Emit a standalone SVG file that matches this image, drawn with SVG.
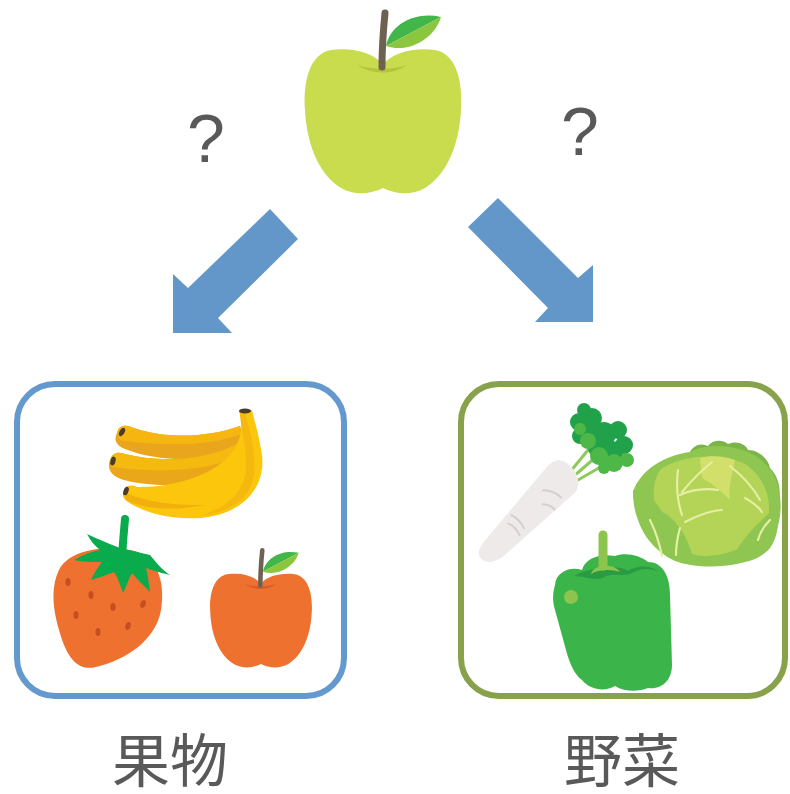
<svg xmlns="http://www.w3.org/2000/svg" xmlns:xlink="http://www.w3.org/1999/xlink" width="790" height="794" viewBox="0 0 790 794">
  <style>
    .label { font-family: "Liberation Sans", "Noto Sans CJK JP", sans-serif; fill: #595959; }
    .q { font-family: "Liberation Sans", sans-serif; fill: #595959; font-size: 68px; text-anchor: middle; }
    .cat { font-size: 58px; text-anchor: middle; }
    .arrow { fill: #6397ca; }
    .box { fill: none; stroke-width: 6; }
    .stem { fill: none; stroke: #6e6152; stroke-width: 7; stroke-linecap: round; }
    .leafDark { fill: #43b649; }
    .leafLight { fill: #8cc63f; }
    .seed { fill: #c64f1f; }
    .vein { fill: none; stroke: #e6eea2; stroke-width: 2.2; stroke-linecap: round; }
    .radLine { fill: none; stroke: #d2cfcf; stroke-width: 2; stroke-linecap: round; }
  </style>
  <defs>
    <!-- generic apple, local origin at top-centre of the body -->
    <path id="appleBody" d="M0,16 C10,5 30,-1 52,2 C74,6 80,35 78,62 C76,100 62,128 42,140 C28,148 12,146 0,140 C-12,146 -28,148 -42,140 C-62,128 -76,100 -78,62 C-80,35 -74,6 -52,2 C-30,-1 -10,5 0,16 Z"/>
    <path id="appleDimple" d="M-26,17 C-10,22 10,22 24,17 C10,27 -10,27 -26,17 Z"/>
    <g id="appleTop">
      <path class="stem" d="M2,-35 C0,-15 -1,0 -1,19"/>
      <path class="leafDark" d="M3,-2 C7,-24 33,-37 58,-31 Z"/>
      <path class="leafLight" d="M3,-2 L58,-31 C52,-10 26,6 3,-2 Z"/>
    </g>
  </defs>

  <!-- question marks -->
  <text class="q" x="206" y="162">?</text>
  <text class="q" x="580" y="155">?</text>

  <!-- connectors -->
  <g id="connectors">
    <polygon class="arrow" points="270,209 298,239 218,318 232,333 173,333 173,274 188,288"/>
    <polygon class="arrow" points="498,198 578,278 593,265 593,322 535,322 548,308 468,227"/>
  </g>

  <!-- source node: green apple -->
  <g id="green-apple" transform="translate(383,48)">
    <use xlink:href="#appleBody" fill="#c8dc4e"/>
    <use xlink:href="#appleDimple" fill="#b4c53d"/>
    <use xlink:href="#appleTop"/>
  </g>

  <!-- fruit group -->
  <g id="fruits">
    <rect class="box" x="17" y="384" width="327" height="312" rx="38" stroke="#6499cd"/>

    <!-- bananas -->
    <g id="banana">
      <path d="M117,433 C118,426 125,424 131,427 C165,440 210,437 240,426 L246,446 C215,463 160,463 125,449 C115,445 114,439 117,433 Z" fill="#e9a51b"/>
      <path d="M117,433 C118,426 125,424 131,427 C165,440 210,437 240,426 L242,434 C210,446 165,447 120,440 Z" fill="#f6b60f"/>
      <path d="M110,460 C112,453 118,451 125,454 C170,465 218,458 246,438 L252,462 C226,486 160,490 124,480 C110,476 107,468 110,460 Z" fill="#eaa71a"/>
      <path d="M110,460 C112,453 118,451 125,454 C170,465 218,458 246,438 L248,450 C220,470 170,474 112,467 Z" fill="#f6b90f"/>
      <path d="M124,492 C125,486 130,484 137,487 C180,488 228,470 238,442 C243,428 242,418 239,412 L252,410 C254,420 258,430 262,455 C266,490 240,515 200,518 C165,520 140,510 128,502 C122,498 122,495 124,492 Z" fill="#fcc60d"/>
      <path d="M245,412 C250,430 256,452 254,475 C250,500 230,512 200,516 C235,505 248,485 246,460 C245,440 240,425 240,412 Z" fill="#f5b80e"/>
      <path d="M124,492 C140,500 170,506 205,505 C170,512 140,508 126,500 Z" fill="#f2b00e"/>
      <ellipse cx="245" cy="411" rx="6" ry="2.5" fill="#4a3a28"/>
      <ellipse cx="122" cy="432" rx="2.5" ry="4.5" transform="rotate(30 122 432)" fill="#4a3a28"/>
      <ellipse cx="113" cy="461" rx="2.5" ry="4.5" transform="rotate(15 113 461)" fill="#4a3a28"/>
      <ellipse cx="126" cy="491" rx="2.5" ry="4.5" transform="rotate(20 126 491)" fill="#4a3a28"/>
    </g>

    <!-- strawberry -->
    <g id="strawberry">
      <path d="M60,568 C72,550 100,546 130,550 C156,554 166,580 161,610 C156,640 126,660 96,667 C76,672 66,655 59,630 C52,605 51,585 60,568 Z" fill="#ef7130"/>
      <ellipse class="seed" cx="68" cy="582" rx="2.6" ry="4"/>
      <ellipse class="seed" cx="91" cy="595" rx="2.6" ry="4"/>
      <ellipse class="seed" cx="113" cy="607" rx="2.6" ry="4"/>
      <ellipse class="seed" cx="143" cy="604" rx="2.6" ry="4" transform="rotate(20 143 604)"/>
      <ellipse class="seed" cx="76" cy="615" rx="2.6" ry="4"/>
      <ellipse class="seed" cx="98" cy="632" rx="2.6" ry="4"/>
      <ellipse class="seed" cx="128" cy="626" rx="2.6" ry="4" transform="rotate(20 128 626)"/>
      <path d="M125,519 C124,530 123,542 122,556" fill="none" stroke="#0aab4c" stroke-width="8" stroke-linecap="round"/>
      <path d="M87,534 C100,540 110,544 120,548 C130,550 140,553 150,555 C158,565 165,572 170,575 C160,573 152,570 146,568 C148,576 149,584 150,592 C142,584 136,578 132,573 C128,580 126,588 123,593 C120,584 117,576 114,572 C106,575 98,578 91,580 C94,573 98,567 102,562 C92,562 82,562 74,560 C84,554 94,551 100,550 C94,545 90,540 87,534 Z" fill="#0aab4c"/>
    </g>

    <!-- red apple -->
    <g id="red-apple" transform="translate(261,573) scale(0.65)">
      <use xlink:href="#appleBody" fill="#ef7130"/>
      <use xlink:href="#appleDimple" fill="#d55d27"/>
      <use xlink:href="#appleTop"/>
    </g>
  </g>

  <!-- vegetable group -->
  <g id="vegetables">
    <rect class="box" x="461" y="384" width="324" height="312" rx="38" stroke="#87a24a"/>

    <!-- daikon radish -->
    <g id="daikon">
      <g stroke="#8dca5b" stroke-width="3" stroke-linecap="round" fill="none">
        <path d="M570,472 L588,450"/>
        <path d="M574,476 L597,456"/>
        <path d="M578,480 L604,465"/>
      </g>
      <g fill="#21a24a">
        <circle cx="584" cy="410" r="7"/>
        <circle cx="579" cy="422" r="9"/>
        <circle cx="592" cy="418" r="10"/>
        <circle cx="580" cy="436" r="8"/>
        <circle cx="590" cy="432" r="11"/>
        <circle cx="604" cy="434" r="12"/>
        <circle cx="618" cy="430" r="9"/>
        <circle cx="624" cy="445" r="9"/>
        <circle cx="612" cy="452" r="11"/>
        <circle cx="598" cy="448" r="10"/>
      </g>
      <g fill="#4db848">
        <circle cx="588" cy="441" r="8"/>
        <circle cx="599" cy="456" r="9"/>
        <circle cx="614" cy="463" r="9"/>
        <circle cx="627" cy="460" r="7"/>
        <circle cx="604" cy="468" r="6"/>
        <circle cx="580" cy="429" r="6"/>
      </g>
      <g transform="translate(527,514) rotate(-44)">
        <path d="M63,-12 C67,0 63,15 50,18 L-46,14 C-56,13 -64,8 -64,0 C-64,-6 -58,-9 -50,-10 L46,-20 C55,-21 61,-18 63,-12 Z" fill="#eeeae9"/>
        <path class="radLine" d="M28,-6 C34,0 36,6 36,12"/>
        <path class="radLine" d="M18,4 C22,8 23,12 23,16"/>
        <path class="radLine" d="M-12,-10 C-10,-4 -10,2 -12,8"/>
        <path class="radLine" d="M-20,-6 C-18,-2 -18,4 -20,10"/>
      </g>
    </g>

    <!-- cabbage -->
    <g id="cabbage">
      <path d="M688,458 C690,446 700,442 708,446 C712,440 722,439 728,444 C736,440 746,444 748,450 C758,450 768,458 770,468 C778,476 781,488 779,498 L760,484 C740,465 712,460 688,462 Z" fill="#7bb548"/>
      <path d="M633,492 C640,470 665,455 690,452 C700,446 720,444 735,448 C755,452 772,465 778,485 C785,512 778,540 760,555 C740,568 700,570 675,561 C650,549 636,525 633,492 Z" fill="#8ec651"/>
      <path d="M660,470 C680,455 720,452 745,464 C765,477 772,500 768,520 C756,545 730,556 705,556 C685,556 665,541 658,520 C652,500 652,482 660,470 Z" fill="#b3d456"/>
      <path d="M700,458 C712,455 725,456 735,460 C732,475 728,488 730,500 C720,490 710,482 702,478 Z" fill="#d2df6a"/>
      <path d="M633,490 C646,492 656,500 662,512 C672,516 684,530 690,548 C692,555 694,560 694,564 C670,564 646,545 638,520 C634,510 633,500 633,490 Z" fill="#8ec651"/>
      <path d="M776,505 C780,520 778,538 770,548 C760,560 742,565 728,562 C738,548 748,532 760,522 C766,516 772,510 776,505 Z" fill="#8ec651"/>
      <path class="vein" d="M678,470 C676,485 677,500 682,515"/>
      <path class="vein" d="M680,495 C690,490 705,488 718,490"/>
      <path class="vein" d="M682,492 C692,480 702,470 712,462"/>
      <path class="vein" d="M685,522 C700,514 715,510 722,510"/>
      <path class="vein" d="M730,466 C740,474 752,485 760,500"/>
      <path class="vein" d="M745,498 C752,502 758,506 762,512"/>
      <path class="vein" d="M650,520 C656,532 660,546 662,556"/>
      <path class="vein" d="M676,555 C676,545 678,535 680,528"/>
      <path class="vein" d="M758,540 C760,532 764,526 770,520"/>
    </g>

    <!-- green pepper -->
    <g id="pepper">
      <path d="M555,585 C556,572 570,566 582,570 C585,558 600,553 615,556 C625,552 640,555 648,562 C662,562 670,575 670,595 L672,665 C672,680 662,690 648,688 C638,692 625,692 615,686 C605,692 590,690 582,680 C575,675 570,665 566,650 L555,610 C552,600 553,592 555,585 Z" fill="#3bb54a"/>
      <path d="M574,576 C585,576 596,582 604,577 C614,572 624,578 634,572 C644,567 654,569 660,572 C648,564 636,566 628,571 C620,566 610,567 604,571 C594,567 584,571 574,576 Z" fill="#2a9b43"/>
      <path d="M603,535 L603,566" fill="none" stroke="#8cc54d" stroke-width="9" stroke-linecap="round"/>
      <path d="M591,574 C594,564 614,563 620,572 C612,569 598,569 591,574 Z" fill="#8cc54d"/>
      <circle cx="571" cy="597" r="7" fill="#8cc54d"/>
    </g>
  </g>

  <!-- category labels -->
  <text class="label cat" x="170" y="782">果物</text>
  <text class="label cat" x="622" y="782">野菜</text>
</svg>
